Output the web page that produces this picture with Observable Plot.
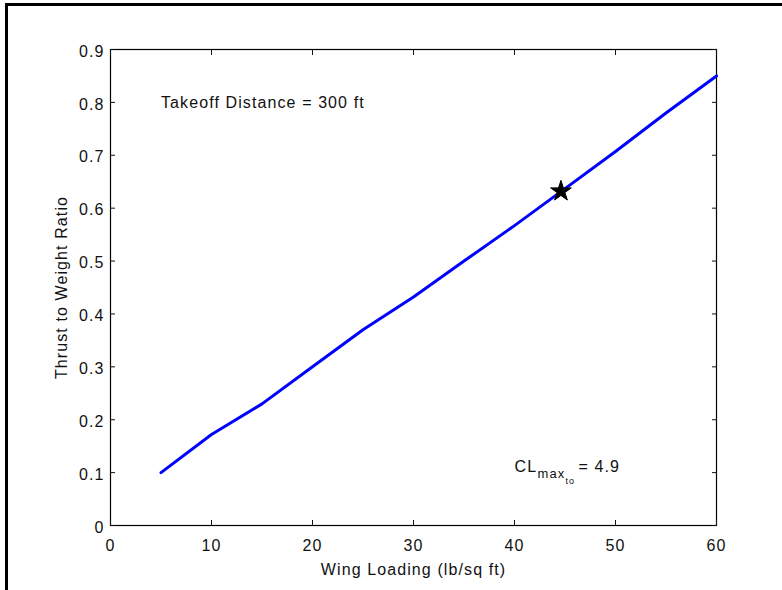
<!DOCTYPE html>
<html>
<head>
<meta charset="utf-8">
<script src="https://cdn.jsdelivr.net/npm/d3@7"></script>
<script src="https://cdn.jsdelivr.net/npm/@observablehq/plot@0.6"></script>
<style>
  html, body { margin: 0; padding: 0; background: #fff; }
  #wrap { position: relative; width: 782px; height: 590px; overflow: hidden; }
  #border { position: absolute; left: 5px; top: 3px; width: 900px; height: 700px; border-left: 3px solid #000; border-top: 3px solid #000; }
  #chart { position: absolute; left: 0; top: 0; }
</style>
</head>
<body>
<div id="wrap"><div id="border"></div><div id="chart"></div></div>
<script>
// Data
const wingLoading = [5, 10, 15, 20, 25, 30, 35, 40, 45, 50, 55, 60];
const thrustToWeight = [0.10, 0.172, 0.23, 0.30, 0.37, 0.432, 0.50, 0.567, 0.637, 0.707, 0.78, 0.85];
const designPointX = [44.6];
const designPointY = [0.632];
const xTicks = [0, 10, 20, 30, 40, 50, 60];
const xTickLabels = ["0", "10", "20", "30", "40", "50", "60"];
const yTicks = [0, 0.1, 0.2, 0.3, 0.4, 0.5, 0.6, 0.7, 0.8, 0.9];
const yTickLabels = ["0", "0.1", "0.2", "0.3", "0.4", "0.5", "0.6", "0.7", "0.8", "0.9"];
const xLabel = ["Wing Loading (lb/sq ft)"];
const yLabel = ["Thrust to Weight Ratio"];
const noteTakeoff = {x: 5, y: 0.8, text: "Takeoff Distance = 300 ft"};
const noteCL = {x: 40, y: 0.11, base: "CL", sub: "max", subsub: "to", rest: "= 4.9"};

const curve = wingLoading.map((x, i) => ({x, y: thrustToWeight[i]}));
const star = designPointX.map((x, i) => ({x, y: designPointY[i]}));
const xFmt = d => xTickLabels[xTicks.indexOf(d)];
const yFmt = d => yTickLabels[yTicks.findIndex(t => Math.abs(t - d) < 1e-9)];

const plot = Plot.plot({
  width: 782,
  height: 590,
  marginLeft: 110,
  marginRight: 66,
  marginTop: 49,
  marginBottom: 65,
  style: {fontFamily: "'Liberation Sans', Arial, sans-serif", fontSize: "16px", color: "#111", background: "transparent", letterSpacing: "1.1px"},
  x: {domain: [0, 60]},
  y: {domain: [0, 0.9]},
  marks: [
    Plot.frame({stroke: "#000", strokeWidth: 1.2}),
    // inward ticks on all sides
    Plot.axisX({anchor: "bottom", ticks: xTicks, tickSize: -5, tickFormat: () => "", label: null}),
    Plot.axisX({anchor: "top", ticks: xTicks, tickSize: -5, tickFormat: () => "", label: null}),
    Plot.axisY({anchor: "left", ticks: yTicks, tickSize: -5, tickFormat: () => "", label: null}),
    Plot.axisY({anchor: "right", ticks: yTicks, tickSize: -5, tickFormat: () => "", label: null}),
    // tick labels
    Plot.axisX({anchor: "bottom", ticks: xTicks, tickSize: 0, tickPadding: 14, tickFormat: xFmt, label: null, fontSize: 16}),
    Plot.axisY({anchor: "left", ticks: yTicks, tickSize: 0, tickPadding: 6, tickFormat: yFmt, dy: 2, label: null, fontSize: 16}),
    // axis titles
    Plot.text(xLabel, {text: d => d, frameAnchor: "bottom", textAnchor: "middle", lineAnchor: "middle", dy: 44, fontSize: 16}),
    Plot.text(yLabel, {text: d => d, frameAnchor: "left", textAnchor: "middle", lineAnchor: "middle", rotate: -90, dx: -49, fontSize: 16}),
    Plot.line(curve, {x: "x", y: "y", stroke: "#0000ff", strokeWidth: 3}),
    Plot.dot(star, {x: "x", y: "y", symbol: "star", r: 6.5, fill: "#000", stroke: "#000", strokeWidth: 1}),
    Plot.text([noteTakeoff], {x: "x", y: "y", text: "text", textAnchor: "start", fontSize: 16}),
    Plot.text([noteCL], {x: "x", y: "y", text: "base", textAnchor: "start", fontSize: 16}),
    Plot.text([noteCL], {x: "x", y: "y", text: "sub", textAnchor: "start", fontSize: 13, dx: 23, dy: 7}),
    Plot.text([noteCL], {x: "x", y: "y", text: "subsub", textAnchor: "start", fontSize: 9, dx: 51, dy: 14}),
    Plot.text([noteCL], {x: "x", y: "y", text: "rest", textAnchor: "start", fontSize: 16, dx: 64})
  ]
});
document.getElementById("chart").appendChild(plot);
</script>
</body>
</html>
